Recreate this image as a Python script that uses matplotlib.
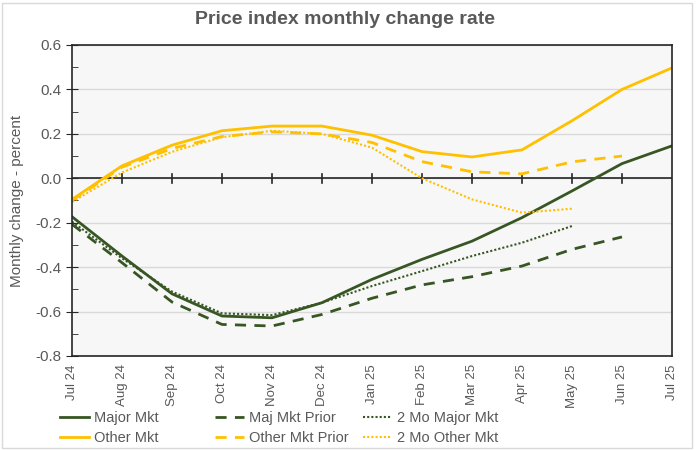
import matplotlib
matplotlib.use('Agg')
import matplotlib.pyplot as plt
from matplotlib.patches import Rectangle
from matplotlib.ticker import MultipleLocator

# Data
months = ['Jul 24', 'Aug 24', 'Sep 24', 'Oct 24', 'Nov 24', 'Dec 24', 'Jan 25',
          'Feb 25', 'Mar 25', 'Apr 25', 'May 25', 'Jun 25', 'Jul 25']

major_mkt = [-0.173, -0.35, -0.52, -0.62, -0.628, -0.56, -0.455, -0.365,
             -0.283, -0.177, -0.057, 0.066, 0.146]
maj_mkt_prior = [-0.207, -0.38, -0.557, -0.658, -0.665, -0.613, -0.54, -0.48,
                 -0.443, -0.395, -0.32, -0.264]
two_mo_major = [-0.195, -0.36, -0.51, -0.608, -0.616, -0.56, -0.485, -0.418,
                -0.35, -0.29, -0.215]
other_mkt = [-0.095, 0.056, 0.149, 0.214, 0.235, 0.235, 0.194, 0.12,
             0.096, 0.128, 0.259, 0.40, 0.497]
other_mkt_prior = [-0.10, 0.05, 0.134, 0.188, 0.209, 0.20, 0.161, 0.075,
                   0.029, 0.02, 0.074, 0.10]
two_mo_other = [-0.107, 0.026, 0.119, 0.185, 0.214, 0.20, 0.138, 0.0,
                -0.095, -0.155, -0.137]

GREEN = '#375623'
YELLOW = '#FFC000'
GRAY = '#595959'

plt.rcParams['font.family'] = ['Liberation Sans', 'DejaVu Sans']

fig = plt.figure(figsize=(6.96, 4.5), dpi=100)
ax = fig.add_axes([72 / 696, 1 - 356 / 450, 600 / 696, 311 / 450])
ax.set_facecolor('#f7f7f7')

x = list(range(len(months)))

l1, = ax.plot(x, major_mkt, color=GREEN, lw=2, label='Major Mkt')
l2, = ax.plot(x, other_mkt, color=YELLOW, lw=2, label='Other Mkt')
l3, = ax.plot(x[:len(maj_mkt_prior)], maj_mkt_prior, color=GREEN, lw=2,
              ls=(0, (4, 3)), label='Maj Mkt Prior')
l4, = ax.plot(x[:len(other_mkt_prior)], other_mkt_prior, color=YELLOW, lw=2,
              ls=(0, (4, 3)), label='Other Mkt Prior')
l5, = ax.plot(x[:len(two_mo_major)], two_mo_major, color=GREEN, lw=1.5,
              ls=(0, (1, 1)), label='2 Mo Major Mkt')
l6, = ax.plot(x[:len(two_mo_other)], two_mo_other, color=YELLOW, lw=1.5,
              ls=(0, (1, 1)), label='2 Mo Other Mkt')

ax.set_xlim(0, len(months) - 1)
ax.set_ylim(-0.8, 0.6)
ax.yaxis.set_major_locator(MultipleLocator(0.2))
ax.yaxis.set_minor_locator(MultipleLocator(0.1))
ax.yaxis.set_major_formatter(matplotlib.ticker.FormatStrFormatter('%.1f'))
ax.grid(axis='y', color='#d9d9d9', lw=1)
ax.set_axisbelow(True)

# horizontal category axis sits at zero
ax.axhline(0, color='#262626', lw=1.2, zorder=1.5)
for xi in x[1:-1]:
    ax.plot([xi, xi], [-0.02, 0.02], color='#262626', lw=1.2, zorder=1.5)

ax.set_xticks(x)
ax.set_xticklabels(months, rotation=90, color=GRAY, fontsize=9.5)
ax.tick_params(axis='x', length=0, pad=6)
ax.tick_params(axis='y', which='major', direction='inout', length=8,
               colors='#262626', labelcolor=GRAY, labelsize=11)
ax.tick_params(axis='y', which='minor', direction='in', length=4,
               colors='#262626')

for s in ax.spines.values():
    s.set_color('#262626')
    s.set_linewidth(1.2)

ax.set_ylabel('Monthly change - percent', color=GRAY, fontsize=11, labelpad=8)

fig.suptitle('Price index monthly change rate', x=0.496, y=0.975,
             fontsize=14, fontweight='bold', color=GRAY)

# legend: three fixed-position columns like Excel
cols = [([l1, l2], 60), ([l3, l4], 215), ([l5, l6], 363)]
for handles, xpos in cols:
    leg = fig.legend(handles, [h.get_label() for h in handles],
                     loc='upper left', bbox_to_anchor=(xpos / 696, 1 - 411 / 450),
                     frameon=False, fontsize=10.5, handlelength=2.0,
                     labelspacing=0.42, handletextpad=0.35, borderpad=0,
                     borderaxespad=0, labelcolor=GRAY)

fig.patches.append(Rectangle((2 / 696, 2 / 450), 690 / 696, 445 / 450,
                             transform=fig.transFigure, fill=False,
                             edgecolor='#d9d9d9', lw=1))

fig.savefig('out.png', dpi=100)
